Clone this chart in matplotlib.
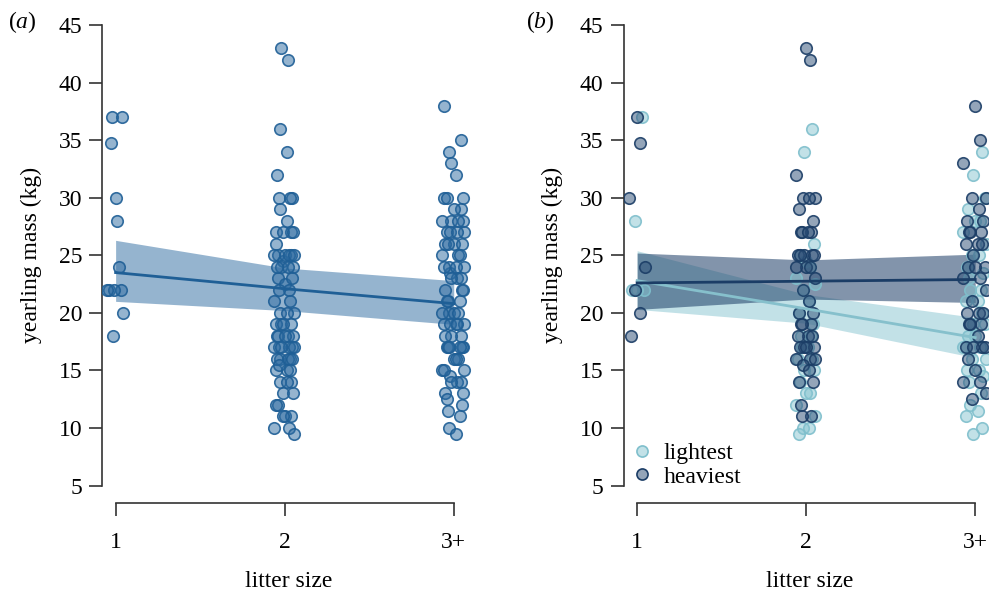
import matplotlib
matplotlib.use('Agg')
import matplotlib.pyplot as plt
from matplotlib.colors import to_rgba
from matplotlib.lines import Line2D

plt.rcParams['font.family'] = ['Liberation Serif', 'DejaVu Serif']
plt.rcParams['mathtext.fontset'] = 'custom'
plt.rcParams['mathtext.rm'] = 'Liberation Serif'
plt.rcParams['mathtext.it'] = 'Liberation Serif:italic'
plt.rcParams['font.size'] = 17

# litter size groups
sizes = [1, 2, 3]
size_labels = ['1', '2', '3+']

# yearling mass (kg), lightest / heaviest of litter, per litter size
light_1 = [37, 28, 22, 22, 22]
heavy_1 = [37, 34.8, 30, 24, 22, 20, 18]
light_2 = [36, 34, 26, 25, 24.5, 24, 23, 22.5, 22, 21, 20, 19, 18, 18, 17, 17,
           16, 16, 15, 15, 14, 13, 13, 12, 11, 10, 10, 9.5]
heavy_2 = [43, 42, 32, 30, 30, 30, 29, 28, 27, 27, 27, 27, 25, 25, 25, 25, 25,
           24, 24, 24, 23, 22, 21, 20, 20, 19, 19, 19, 18, 18, 18, 17, 17, 17,
           17, 16, 16, 16, 15.5, 15, 14, 14, 12, 11, 11]
light_3 = [34, 32, 30, 29, 28, 28, 27, 26, 25, 25, 24, 23.5, 23, 22, 22, 21, 21,
           20, 19, 19, 18, 18, 17, 17, 16, 16, 15, 15, 14.5, 14, 13, 12, 11.5,
           11, 10, 9.5]
heavy_3 = [38, 35, 33, 30, 30, 29, 28, 28, 27, 27, 27, 26, 26, 26, 25, 24, 24,
           24, 23, 23, 22, 21, 20, 20, 20, 19, 19, 19, 18, 17, 17, 17, 17, 16,
           15, 14, 14, 13, 12.5]

lightest = [light_1, light_2, light_3]
heaviest = [heavy_1, heavy_2, heavy_3]
all_pups = [l + h for l, h in zip(lightest, heaviest)]

# fitted lines and confidence bands at litter size 1, 2, 3+
fit_all = [23.5, 22.1, 20.8]
lo_all = [21.0, 20.2, 19.0]
hi_all = [26.3, 23.9, 22.8]
fit_light = [22.8, 20.35, 17.85]
lo_light = [20.3, 19.1, 16.1]
hi_light = [25.4, 21.6, 19.6]
fit_heavy = [22.6, 22.75, 22.9]
lo_heavy = [20.3, 21.2, 20.9]
hi_heavy = [25.2, 24.6, 25.1]

# horizontal jitter pattern for the strip points
JITTER = [-0.02, 0.01, -0.04, 0.03, -0.01, 0.04, -0.03, 0.0, 0.02, -0.05,
          0.045, -0.015, 0.015, -0.035, 0.035, -0.025, 0.025]

blue = '#2c6aa0'
light_c = '#86c4d0'
heavy_c = '#1b3d66'


def draw_points(ax, groups, color, edge, start, spread):
    for g, vals, sp in zip(sizes, groups, spread):
        xs = [g + JITTER[(start + i) % len(JITTER)] * sp for i in range(len(vals))]
        ax.scatter(xs, vals, s=68, facecolor=to_rgba(color, 0.5),
                   edgecolor=to_rgba(edge, 0.9), linewidth=1.2, zorder=3)


def style(ax):
    ax.set_xlim(0.921, 3.126)
    ax.set_ylim(5, 45)
    ax.set_yticks(range(5, 46, 5))
    ax.set_xticks(sizes)
    ax.set_xticklabels(size_labels)
    for s in ['top', 'right']:
        ax.spines[s].set_visible(False)
    ax.spines['bottom'].set_position(('outward', 12.8))
    ax.spines['bottom'].set_bounds(1, 3)
    ax.spines['left'].set_bounds(5, 45)
    for s in ['bottom', 'left']:
        ax.spines[s].set_linewidth(1.2)
        ax.spines[s].set_color('#333333')
    ax.tick_params(axis='both', length=9.5, width=1.2, color='#333333')
    ax.tick_params(axis='x', pad=11)
    ax.tick_params(axis='y', pad=5)
    ax.set_xlabel('litter size', labelpad=13)
    ax.set_ylabel('yearling mass (kg)', labelpad=12)


fig = plt.figure(figsize=(9.89, 5.91), dpi=100)
ax1 = fig.add_axes([0.1034, 0.1785, 0.3769, 0.779])
ax2 = fig.add_axes([0.6307, 0.1785, 0.3769, 0.779])

# (a) all pups
ax1.fill_between(sizes, lo_all, hi_all, color=blue, alpha=0.5, linewidth=0, zorder=2)
draw_points(ax1, all_pups, blue, '#1f5f96', 0, [1.0, 1.25, 1.4])
ax1.plot(sizes, fit_all, color='#1f5f96', linewidth=2, zorder=4)
style(ax1)

# (b) lightest vs heaviest
ax2.fill_between(sizes, lo_light, hi_light, color=light_c, alpha=0.5, linewidth=0, zorder=2)
ax2.fill_between(sizes, lo_heavy, hi_heavy, color=heavy_c, alpha=0.55, linewidth=0, zorder=2)
draw_points(ax2, lightest, light_c, '#7fbfcc', 3, [1.0, 1.2, 1.4])
draw_points(ax2, heaviest, '#2a4c75', heavy_c, 7, [1.0, 1.2, 1.4])
ax2.plot(sizes, fit_light, color='#86c0cc', linewidth=2, zorder=4)
ax2.plot(sizes, fit_heavy, color=heavy_c, linewidth=2, zorder=4)
style(ax2)

handles = [
    Line2D([], [], marker='o', linestyle='', markersize=8,
           markerfacecolor=to_rgba(light_c, 0.5), markeredgecolor='#7fbfcc', markeredgewidth=1.2),
    Line2D([], [], marker='o', linestyle='', markersize=8,
           markerfacecolor=to_rgba('#2a4c75', 0.5), markeredgecolor=heavy_c, markeredgewidth=1.2),
]
ax2.legend(handles, ['lightest', 'heaviest'], loc='lower left', frameon=False,
           handletextpad=0.3, labelspacing=0.1, borderaxespad=0.0, handlelength=1.2,
           borderpad=0.1, bbox_to_anchor=(0.005, -0.01))

fig.text(0.008, 0.962, r'($\mathit{a}$)', fontsize=17, va='center')
fig.text(0.532, 0.962, r'($\mathit{b}$)', fontsize=17, va='center')

fig.savefig('out.png', dpi=100)
